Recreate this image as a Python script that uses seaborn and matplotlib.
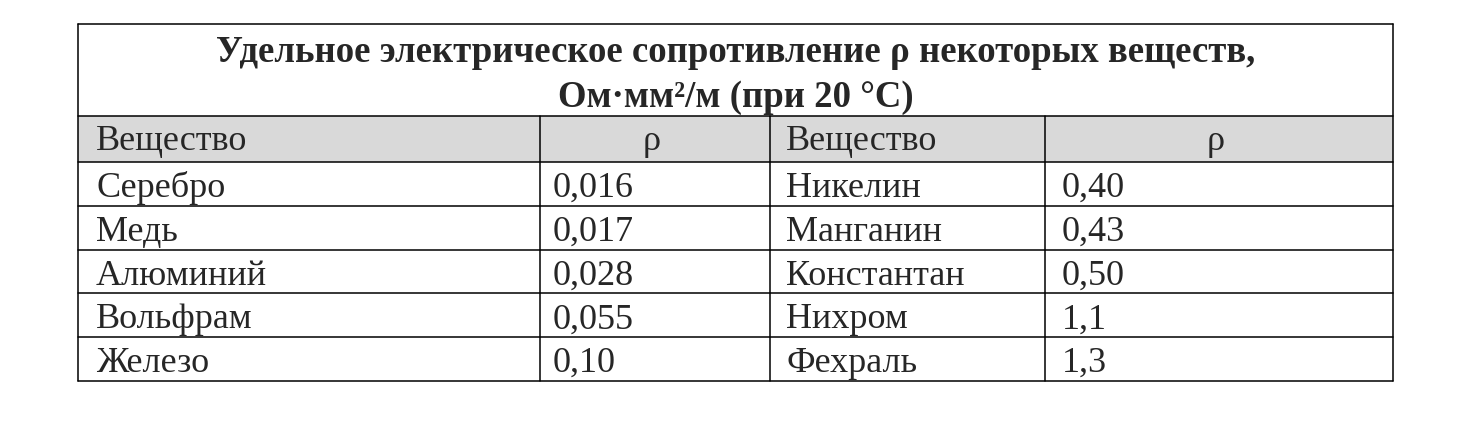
import matplotlib.pyplot as plt
import seaborn as sns

TITLE_LINE1 = "Удельное электрическое сопротивление ρ некоторых веществ,"
TITLE_LINE2 = "Ом·мм²/м (при 20 °С)"
HEADER = ["Вещество", "ρ", "Вещество", "ρ"]
LEFT_NAMES = ["Серебро", "Медь", "Алюминий", "Вольфрам", "Железо"]
LEFT_VALUES = ["0,016", "0,017", "0,028", "0,055", "0,10"]
RIGHT_NAMES = ["Никелин", "Манганин", "Константан", "Нихром", "Фехраль"]
RIGHT_VALUES = ["0,40", "0,43", "0,50", "1,1", "1,3"]

sns.set_theme(style="white")
plt.rcParams["font.family"] = ["Liberation Serif", "DejaVu Serif"]

W, H = 1482, 422
fig = plt.figure(figsize=(W / 100, H / 100), dpi=100)
ax = fig.add_axes([0, 0, 1, 1])
ax.set_xlim(0, W)
ax.set_ylim(H, 0)
ax.axis("off")

x_cols = [78, 540, 770, 1045, 1393]
y_top, y_head, y_body = 24, 116, 162
row_h = 43.8
n = len(LEFT_NAMES)
y_bottom = y_body + n * row_h
lw = 1.1

ax.fill_between([x_cols[0], x_cols[-1]], y_head, y_body, color="#d9d9d9", lw=0)

for y in [y_top, y_head, y_body] + [y_body + (i + 1) * row_h for i in range(n)]:
    ax.plot([x_cols[0], x_cols[-1]], [y, y], color="black", lw=lw)
ax.plot([x_cols[0]] * 2, [y_top, y_bottom], color="black", lw=lw)
ax.plot([x_cols[-1]] * 2, [y_top, y_bottom], color="black", lw=lw)
for x in x_cols[1:-1]:
    ax.plot([x, x], [y_head, y_bottom], color="black", lw=lw)

mid = (x_cols[0] + x_cols[-1]) / 2 + 0
ax.text(736, 62, TITLE_LINE1, ha="center", va="baseline", fontsize=26.5, fontweight="bold")
ax.text(736, 107, TITLE_LINE2, ha="center", va="baseline", fontsize=26.5, fontweight="bold")

fs = 26
yh = y_head + 34
ax.text(x_cols[0] + 18, yh, HEADER[0], ha="left", va="baseline", fontsize=fs)
ax.text(652, yh, HEADER[1], ha="center", va="baseline", fontsize=fs)
ax.text(x_cols[2] + 16, yh, HEADER[2], ha="left", va="baseline", fontsize=fs)
ax.text(1216, yh, HEADER[3], ha="center", va="baseline", fontsize=fs)

for i in range(n):
    yb = y_body + i * row_h + 35
    ax.text(x_cols[0] + 18, yb, LEFT_NAMES[i], ha="left", va="baseline", fontsize=fs)
    ax.text(x_cols[1] + 13, yb, LEFT_VALUES[i], ha="left", va="baseline", fontsize=fs)
    ax.text(x_cols[2] + 16, yb, RIGHT_NAMES[i], ha="left", va="baseline", fontsize=fs)
    ax.text(x_cols[3] + 17, yb, RIGHT_VALUES[i], ha="left", va="baseline", fontsize=fs)

fig.savefig("out.png", dpi=100)
